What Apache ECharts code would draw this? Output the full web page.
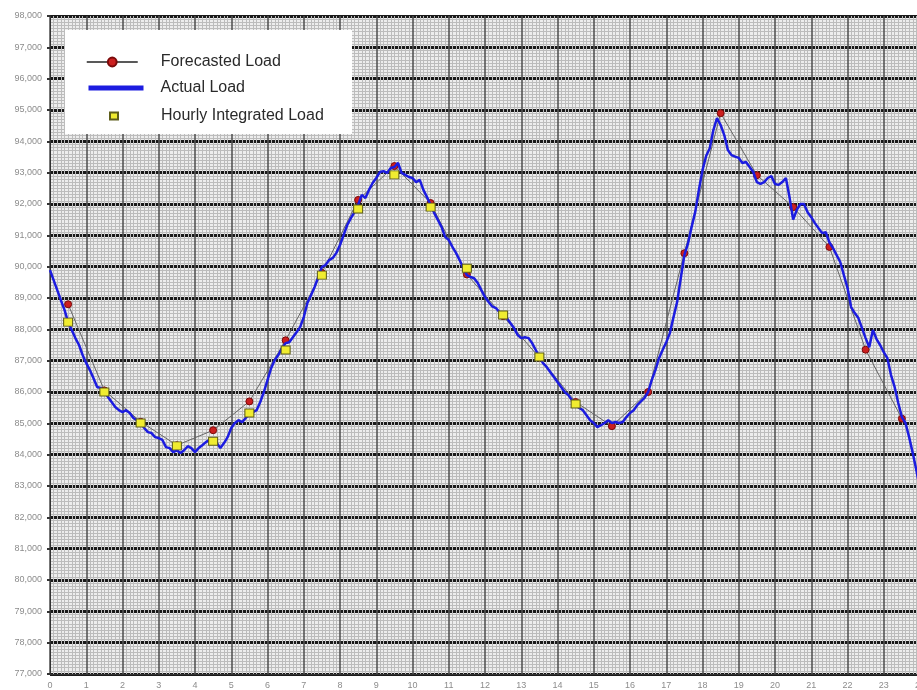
<!DOCTYPE html>
<html><head><meta charset="utf-8">
<script src="https://cdn.jsdelivr.net/npm/echarts@6/dist/echarts.min.js"></script>
<style>html,body{margin:0;padding:0;background:#fff}#c{width:917px;height:690px}</style>
</head><body><div id="c"></div>
<script>
// ---- data ----
const halfHours = [0.5,1.5,2.5,3.5,4.5,5.5,6.5,7.5,8.5,9.5,10.5,11.5,12.5,13.5,14.5,15.5,16.5,17.5,18.5,19.5,20.5,21.5,22.5,23.5];
const forecastedLoad = [88800,86050,85050,84300,84780,85700,87650,89800,92130,93210,92030,89750,88420,87100,85680,84910,86000,90430,94900,92920,91900,90630,87350,85150];
const integratedHours = [0.5,1.5,2.5,3.5,4.5,5.5,6.5,7.5,8.5,9.5,10.5,11.5,12.5,13.5,14.5];
const hourlyIntegratedLoad = [88230,86000,85010,84280,84430,85330,87340,89730,91840,92930,91900,89950,88460,87120,85620];
// actual load sampled every 0.1 h from hour 0 to hour 24
const actualStartHour = 0;
const actualStepHours = 0.1;
const actualLoad = [
89890,89570,89250,88930,88620,88230,87980,87720,87500,87180,
86920,86700,86440,86160,86130,86000,85840,85680,85520,85420,
85360,85420,85330,85170,85100,85010,84850,84720,84690,84560,
84530,84470,84240,84210,84080,84140,84050,84140,84270,84210,
84080,84210,84300,84400,84470,84500,84370,84210,84370,84560,
84850,85010,85100,85040,85170,85300,85360,85420,85680,86000,
86380,86760,87020,87180,87400,87560,87590,87750,87910,88070,
88390,88840,89090,89350,89670,89990,90050,90210,90280,90440,
90690,91010,91330,91550,91740,91970,92290,92190,92450,92670,
92830,93020,93050,92990,93150,93180,93310,92990,92930,92860,
92830,92700,92770,92450,92220,91970,91710,91490,91270,90950,
90850,90630,90440,90210,89960,89730,89670,89630,89480,89250,
89030,88870,88730,88680,88550,88460,88360,88200,88040,87820,
87720,87750,87720,87560,87340,87120,86920,86800,86640,86480,
86320,86160,86000,85900,85740,85580,85490,85420,85260,85100,
85010,84880,84940,85010,85100,85010,85040,85010,85040,85200,
85330,85420,85580,85700,85810,86000,86380,86700,87080,87340,
87590,87880,88390,88870,89630,90370,90740,91270,91750,92450,
93080,93530,93780,94360,94740,94520,94200,93720,93560,93510,
93470,93310,93340,93180,93020,92700,92640,92700,92830,92890,
92640,92610,92700,92830,92220,91500,91810,92000,92000,91740,
91580,91390,91230,91070,91100,90780,90590,90370,90150,89730,
89320,88710,88520,88360,88040,87720,87430,87980,87690,87500,
87270,87080,86540,86160,85650,85200,85010,84560,84050,83500,
82900];
const yMin = 77000, yMax = 98000, yStep = 1000;
const xMin = 0, xMax = 24, xStep = 1;

const fmt = v => String(v).replace(/\B(?=(\d{3})+(?!\d))/g, ',');
const chart = echarts.init(document.getElementById('c'), null, {renderer:'canvas'});
const legendText = {fontFamily:'"Liberation Sans", Arial, sans-serif', fontSize:16, color:'#2a2a2a'};
chart.setOption({
  animation:false,
  backgroundColor:'#ffffff',
  grid:{left:50, width:870, top:16, bottom:16, show:true, backgroundColor:'#ededed', borderWidth:0,
        outerBoundsMode:'none', containLabel:false},
  xAxis:{
    type:'value', min:xMin, max:xMax, interval:xStep,
    axisLine:{show:true, lineStyle:{color:'#333', width:1}},
    axisTick:{show:false},
    axisLabel:{color:'#8c8c8c', fontSize:9, margin:7, fontFamily:'"Liberation Sans", Arial, sans-serif'},
    splitLine:{show:true, lineStyle:{color:'#555555', width:1.6}},
    minorTick:{show:false, splitNumber:10},
    minorSplitLine:{show:true, lineStyle:{color:'#bcbcbc', width:1}}
  },
  yAxis:{
    type:'value', min:yMin, max:yMax, interval:yStep,
    axisLine:{show:true, lineStyle:{color:'#333', width:1}},
    axisTick:{show:true, length:3, lineStyle:{color:'#333', width:2}},
    axisLabel:{color:'#8c8c8c', fontSize:9, margin:8, formatter:fmt, fontFamily:'"Liberation Sans", Arial, sans-serif'},
    splitLine:{show:true, lineStyle:{color:'#1a1a1a', width:3}},
    minorTick:{show:false, splitNumber:10},
    minorSplitLine:{show:true, lineStyle:{color:'#bcbcbc', width:1}}
  },
  graphic:[{type:'rect', z:50, shape:{x:65, y:30, width:287, height:104}, style:{fill:'#ffffff'}}],
  legend:[
    {z:60, left:86, top:54, padding:0, itemWidth:51, itemHeight:11, textStyle:Object.assign({padding:[0,0,0,18]}, legendText),
     data:[{name:'Forecasted Load', lineStyle:{color:'#222', width:1.5}}]},
    {z:60, left:86, top:80, padding:0, itemWidth:55, itemHeight:10, textStyle:Object.assign({padding:[0,0,0,12]}, legendText),
     data:[{name:'Actual Load', lineStyle:{width:5}, itemStyle:{opacity:0}}]},
    {z:60, left:109, top:108, padding:0, itemWidth:8, itemHeight:7, textStyle:Object.assign({padding:[0,0,0,38]}, legendText),
     data:[{name:'Hourly Integrated Load', icon:'rect'}]}
  ],
  series:[
    {name:'Forecasted Load', type:'line', z:2,
     data:halfHours.map((h,i)=>[h, forecastedLoad[i]]),
     symbol:'circle', symbolSize:7,
     itemStyle:{color:'#cc1f1f', borderColor:'#7a0a0a', borderWidth:1},
     lineStyle:{color:'#666', width:1}},
    {name:'Actual Load', type:'line', z:3, symbol:'none', showSymbol:false,
     data:actualLoad.map((v,i)=>[actualStartHour + i*actualStepHours, v]),
     lineStyle:{color:'#1c1ce0', width:2.5}, itemStyle:{color:'#1c1ce0'}},
    {name:'Hourly Integrated Load', type:'scatter', z:4,
     data:integratedHours.map((h,i)=>[h, hourlyIntegratedLoad[i]]),
     symbol:'rect', symbolSize:[9,8],
     itemStyle:{color:'#f0ec30', borderColor:'#5e5e1a', borderWidth:1, opacity:1}}
  ]
});
</script>
</body></html>
